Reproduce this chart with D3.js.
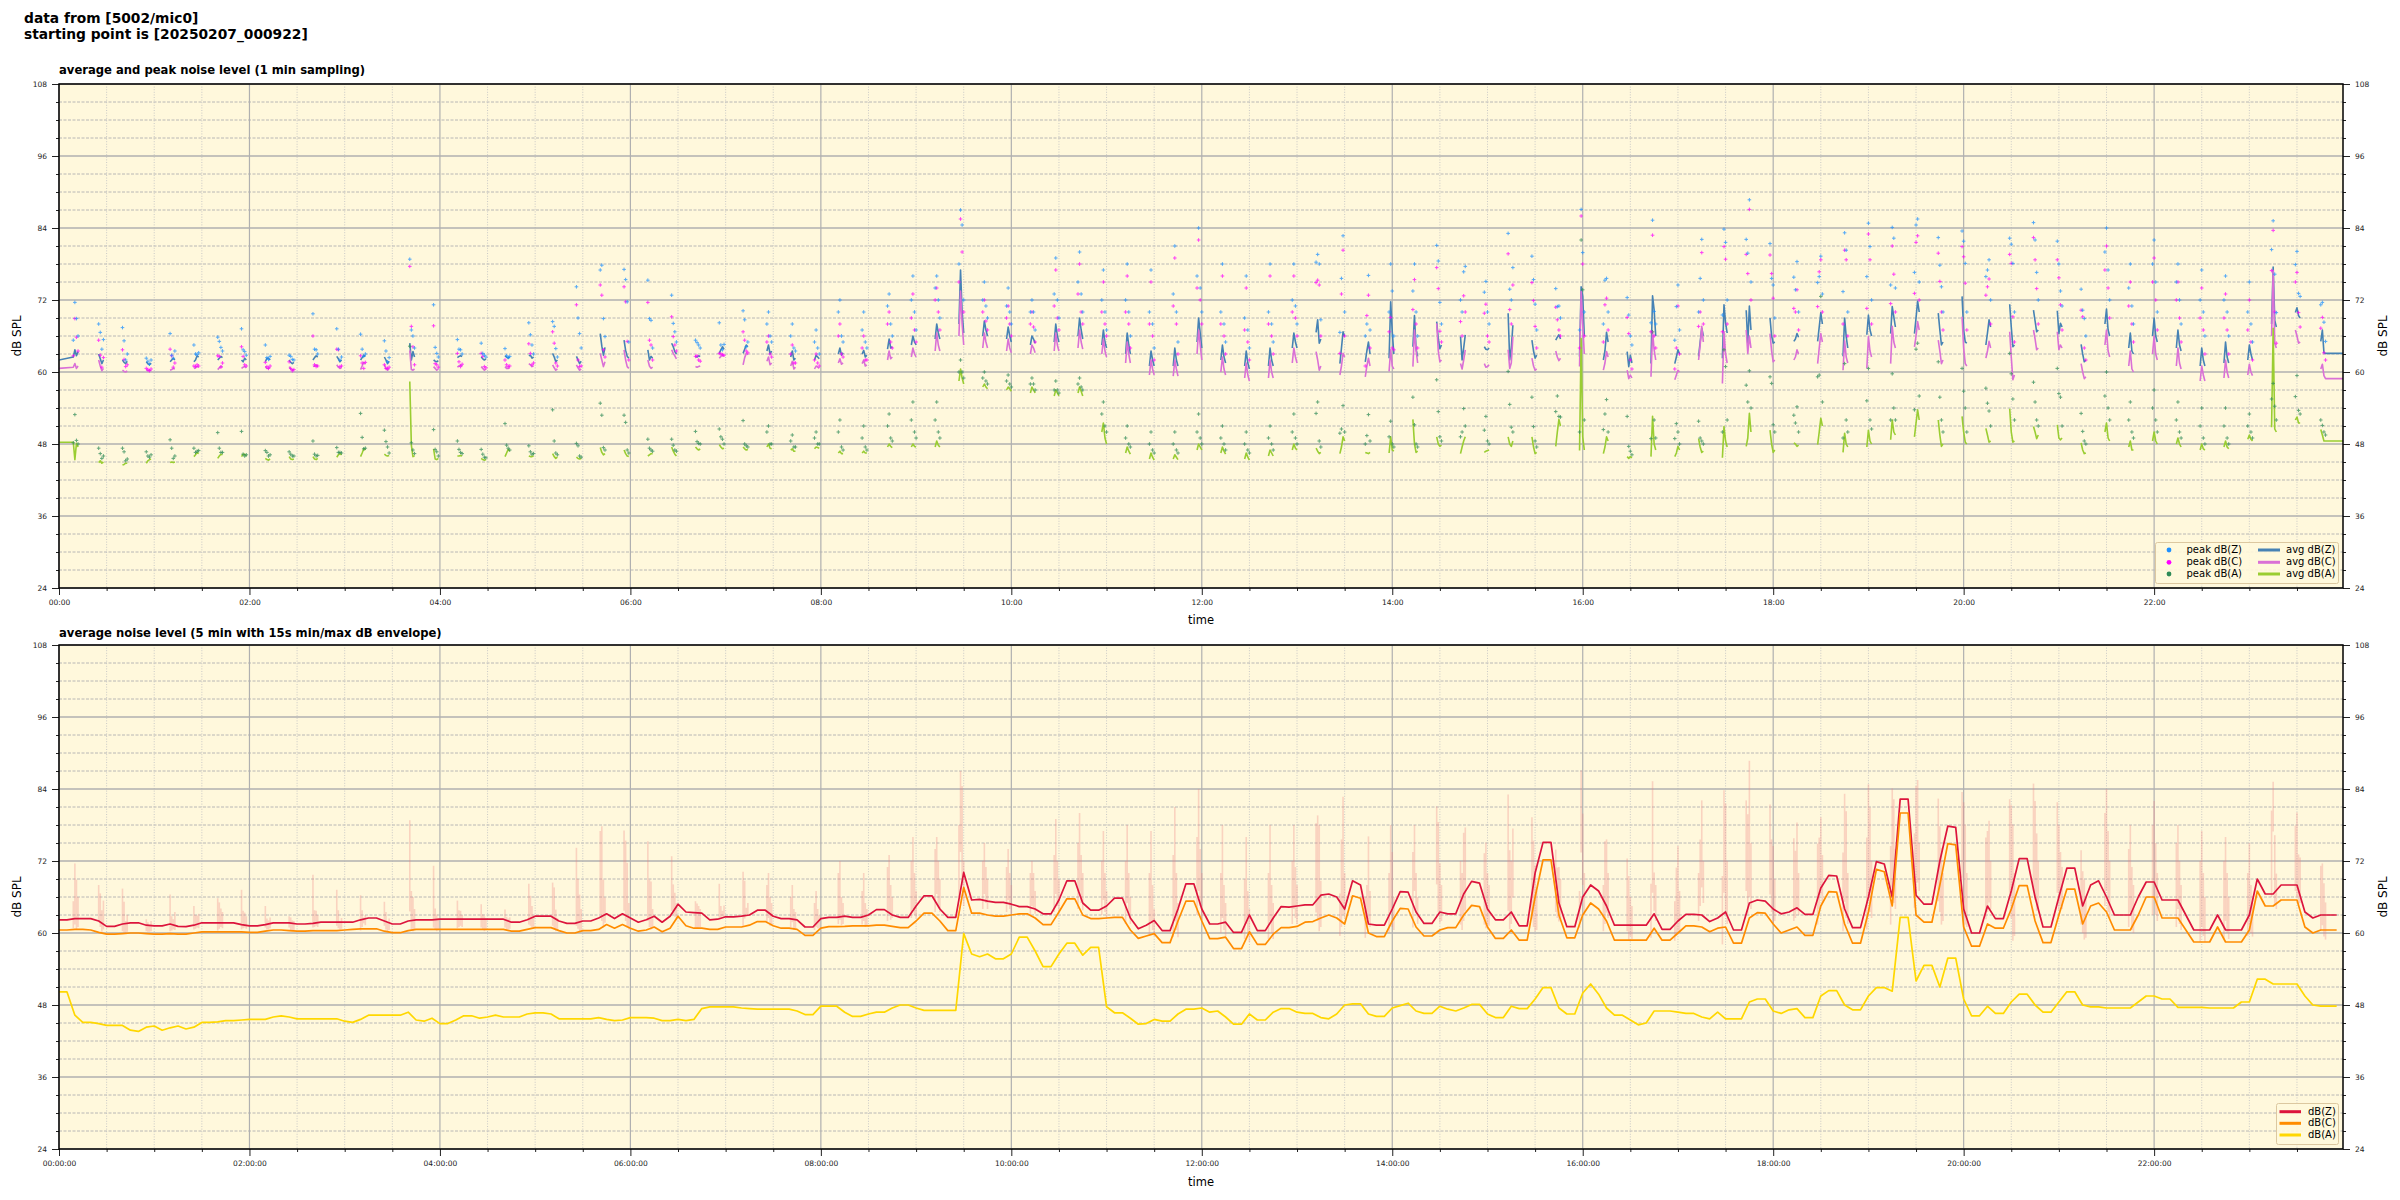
<!DOCTYPE html>
<html><head><meta charset="utf-8">
<script src="https://cdn.jsdelivr.net/npm/d3@7"></script>
<style>
body{margin:0;background:#fff;}
svg{display:block;font-family:"DejaVu Sans",sans-serif;}
</style></head><body>
<svg id="chart" width="2400" height="1200"></svg>
<script>
// ---------------- DATA ----------------
const mainTitle = ["data from [5002/mic0]", "starting point is [20250207_000922]"];
const panelTitles = ["average and peak noise level (1 min sampling)", "average noise level (5 min with 15s min/max dB envelope)"];
const yTicksMajor = [24, 36, 48, 60, 72, 84, 96, 108];

// top panel: 1-min samples recorded in bursts (4 samples each), burst start times
const clusterStart = ["00:09","00:25","00:40","00:55","01:10","01:25","01:40","01:55","02:10","02:25",
"02:40","02:55","03:10","03:25","03:41","03:56","04:11","04:26","04:41","04:56",
"05:11","05:26","05:41","05:56","06:11","06:26","06:41","06:56","07:11","07:26",
"07:41","07:56","08:11","08:26","08:42","08:57","09:12","09:27","09:42","09:57",
"10:12","10:27","10:42","10:57","11:12","11:27","11:42","11:57","12:12","12:27",
"12:42","12:57","13:12","13:27","13:43","13:58","14:13","14:28","14:43","14:58",
"15:13","15:28","15:43","15:58","16:13","16:28","16:43","16:58","17:13","17:28",
"17:43","17:58","18:13","18:28","18:44","18:59","19:14","19:29","19:44","19:59",
"20:14","20:29","20:44","20:59","21:14","21:29","21:44","21:59","22:14","22:29",
"22:44","22:59","23:14","23:29","23:45"];
const sampleOffsetMin = [0, 1, 2, 3];
const edgeTime = ["00:00", "23:59"];
const edgeAvgZ = [62.0, 63.1];
const edgeAvgC = [60.6, 58.9];
const edgeAvgA = [48.3, 48.5];

const avgZ = [
[62.5,63.7,62.7,63.4],[63.0,62.2,61.4,62.0],[62.0,61.6,61.4,61.8],[61.7,61.4,61.2,61.5],[61.7,62.0,62.3,62.0],
[61.7,62.0,62.7,62.5],[62.0,62.3,62.6,62.4],[62.0,61.7,62.3,62.0],[61.7,62.3,62.3,62.0],[62.0,61.6,61.4,61.6],
[62.0,62.4,62.7,62.5],[62.6,62.2,61.7,62.0],[62.0,62.4,62.8,62.6],[62.5,62.0,61.4,61.8],[64.8,62.0,63.4,62.5],
[62.0,61.8,61.7,61.9],[62.4,62.6,62.7,62.6],[62.5,62.2,62.0,62.2],[62.7,62.5,62.3,62.5],[62.7,62.8,62.3,62.5],
[63.1,62.5,61.7,62.0],[62.6,62.0,61.4,61.8],[66.4,64.3,62.8,64.1],[65.3,63.6,62.6,62.3],[63.7,62.0,62.6,62.3],
[64.8,64.2,63.4,63.0],[62.6,62.5,62.7,62.6],[63.1,63.7,64.2,63.8],[63.1,63.8,64.5,64.2],[63.5,64.5,63.0,63.5],
[62.5,63.5,62.0,62.3],[62.0,62.8,62.5,62.2],[63.0,64.0,62.8,63.2],[63.0,63.6,62.5,62.8],[63.8,65.5,64.0,64.2],
[64.5,66.0,65.0,64.5],[65.5,68.0,66.5,65.5],[68.0,77.0,70.0,66.5],[66.0,68.5,67.0,66.0],[65.5,67.5,66.0,65.0],
[64.5,66.0,65.5,64.8],[65.0,68.0,66.0,65.0],[66.0,69.0,67.0,65.5],[64.5,67.0,65.0,64.0],[63.0,66.5,64.5,63.0],
[61.0,63.5,62.0,61.0],[61.0,64.0,62.0,61.0],[65.0,69.0,66.5,64.0],[62.0,64.5,62.5,61.5],[61.0,63.5,61.5,60.5],
[61.0,64.0,62.0,61.0],[64.0,66.5,65.0,64.0],[66.6,68.7,64.8,65.5],[61.4,64.0,66.7,65.9],[61.7,63.5,65.0,63.0],
[62.3,71.7,66.7,63.0],[64.2,69.4,63.8,62.6],[68.4,65.5,63.9,64.5],[65.9,62.0,64.0,66.2],[64.2,63.8,63.7,64.0],
[69.8,62.0,64.0,67.8],[65.3,63.5,62.3,62.8],[65.3,65.8,66.2,65.5],[62.6,74.2,72.6,66.0],[62.0,63.5,66.6,65.0],
[63.4,60.9,62.8,61.5],[61.4,72.7,70.3,66.0],[61.4,62.5,63.7,63.0],[62.6,65.0,67.3,66.0],[62.3,71.2,68.2,66.5],
[70.3,64.8,71.0,67.0],[69.0,66.0,64.8,65.0],[65.1,65.5,66.4,65.8],[65.1,67.5,69.9,68.0],[62.6,69.0,65.9,64.0],
[66.2,69.5,67.0,66.0],[66.4,70.9,69.2,67.5],[66.4,69.0,71.8,70.0],[69.8,67.0,64.5,65.0],[72.6,67.0,65.0,64.8],
[64.5,66.5,68.7,67.5],[71.3,67.5,64.2,64.5],[70.3,68.5,66.7,67.0],[70.2,66.4,68.1,67.5],[64.6,63.0,61.7,62.0],
[68.0,70.5,67.0,66.0],[64.0,66.5,63.5,63.0],[66.0,69.0,66.0,65.0],[64.0,67.0,64.5,63.5],[61.0,64.0,62.0,61.0],
[61.5,65.0,62.5,61.5],[62.0,64.5,63.0,62.0],[68.0,77.5,68.6,67.5],[69.9,70.7,69.4,69.0],[65.1,67.0,63.2,63.1]];

const avgC = [
[60.8,61.4,60.6,61.0],[62.0,61.0,60.2,60.6],[60.3,60.1,60.0,60.2],[60.3,60.2,60.2,60.3],[60.3,60.4,60.6,60.5],
[60.6,60.7,60.9,60.8],[60.4,60.7,61.0,60.8],[60.6,60.8,60.9,60.7],[60.9,60.6,60.6,60.8],[60.9,60.5,60.3,60.4],
[60.9,61.0,61.2,61.0],[61.2,60.8,60.6,60.7],[60.4,61.0,61.6,61.3],[61.2,60.6,60.3,60.5],[63.6,60.4,60.3,60.5],
[60.9,60.6,60.3,60.5],[60.8,61.0,61.2,61.0],[60.9,60.6,60.3,60.5],[60.9,60.6,60.6,60.7],[61.4,61.2,60.9,61.0],
[61.2,60.7,60.3,60.5],[61.2,60.7,60.3,60.5],[63.1,62.0,60.9,61.7],[63.7,62.0,60.9,60.6],[62.0,61.0,60.6,60.8],
[63.7,63.1,62.7,62.2],[60.9,60.8,60.9,61.0],[62.3,62.6,62.8,62.6],[61.2,62.4,63.1,62.9],[61.8,62.5,61.2,61.5],
[61.0,61.8,60.5,60.8],[60.5,61.0,60.8,60.6],[61.5,62.2,61.3,61.5],[61.4,62.0,61.0,61.2],[62.0,63.5,62.2,62.5],
[62.5,64.0,63.0,62.5],[63.5,66.5,64.5,63.5],[66.0,73.5,68.0,64.5],[64.0,66.5,65.0,64.0],[63.5,65.5,64.0,63.2],
[63.0,64.5,64.0,63.2],[63.5,66.5,64.5,63.5],[64.0,67.0,65.0,63.8],[63.0,65.5,63.5,62.5],[61.5,65.0,63.0,61.5],
[59.5,62.0,60.5,59.5],[59.3,62.0,60.5,59.3],[63.0,67.0,64.5,62.0],[60.0,62.5,60.5,59.5],[59.0,61.5,59.5,58.5],
[59.0,62.0,60.0,59.0],[61.5,64.0,62.5,61.5],[63.4,62.0,60.3,61.0],[59.5,61.0,63.1,62.5],[59.2,61.0,62.3,61.0],
[60.1,63.7,61.0,60.5],[60.9,67.0,63.7,61.5],[68.1,63.5,61.7,62.0],[61.4,60.5,62.0,63.7],[61.4,60.8,60.9,61.2],
[63.7,60.6,61.5,65.9],[62.3,61.0,60.3,60.5],[63.5,62.5,61.9,62.3],[60.9,73.4,68.0,63.0],[60.3,61.5,63.4,62.5],
[60.3,58.9,59.5,59.0],[59.2,66.7,63.7,62.0],[58.7,59.5,60.3,60.0],[62.0,64.5,67.6,65.0],[58.1,66.7,63.0,61.5],
[67.0,63.1,66.0,64.0],[66.4,63.5,61.7,62.0],[62.0,62.5,63.7,63.0],[61.4,64.0,66.4,65.0],[60.3,65.2,62.5,61.5],
[60.6,65.9,63.5,62.5],[61.4,67.6,65.0,64.0],[64.2,66.0,68.4,67.0],[65.3,63.5,61.4,62.0],[69.2,64.0,61.4,61.0],
[62.3,63.5,65.1,64.0],[66.7,62.5,58.7,59.5],[67.0,65.5,63.7,64.0],[66.7,63.7,64.5,64.0],[61.4,60.0,58.9,59.2],
[64.5,67.0,63.5,62.5],[61.0,63.5,60.5,60.0],[63.0,66.0,63.0,62.0],[61.0,64.0,61.5,60.5],[58.5,61.0,59.5,58.5],
[59.0,62.0,60.0,59.0],[59.5,61.3,60.0,59.4],[66.0,76.9,64.8,64.0],[67.0,66.0,64.8,65.0],[60.5,61.3,59.4,58.9]];

const avgA = [
[48.3,45.4,48.1,47.5],[44.9,45.2,44.8,45.0],[44.5,44.6,44.8,44.8],[44.8,45.2,45.4,45.5],[44.9,45.0,44.9,45.0],
[45.9,46.2,46.6,46.4],[45.6,46.0,46.3,46.2],[45.9,46.3,46.3,46.0],[45.6,45.4,45.3,45.5],[45.9,45.5,45.4,45.5],
[45.9,45.5,45.4,45.6],[45.8,46.2,46.4,46.2],[45.9,46.5,47.2,47.0],[46.3,46.1,46.0,46.1],[58.4,47.8,45.9,46.0],
[47.2,45.5,45.4,45.6],[46.0,46.0,46.1,46.0],[45.6,45.4,45.3,45.4],[45.9,46.5,47.1,46.8],[46.0,45.9,45.9,46.0],
[46.4,45.9,45.6,45.8],[45.8,45.6,45.5,45.6],[47.4,46.6,46.2,46.4],[47.0,46.4,46.0,45.9],[46.0,46.2,46.4,46.4],
[47.5,46.8,46.3,46.0],[47.5,47.2,47.0,47.2],[47.9,47.5,47.2,47.3],[47.5,47.2,47.0,47.1],[47.5,48.0,47.3,47.2],
[47.0,47.2,46.8,46.8],[47.2,47.5,47.4,47.3],[46.5,46.8,46.4,46.4],[46.5,46.8,46.5,46.5],[47.5,48.0,47.6,47.4],
[47.5,48.0,47.6,47.5],[47.5,48.5,47.8,47.5],[58.5,60.5,59.0,58.0],[57.5,58.0,57.5,57.2],[57.0,57.5,57.2,56.8],
[56.5,57.5,57.0,56.5],[56.0,57.0,56.5,56.0],[56.5,57.5,56.8,56.0],[50.0,51.5,49.0,48.0],[46.5,47.5,46.8,46.3],
[45.5,46.5,45.8,45.3],[45.5,46.2,45.8,45.4],[47.0,48.0,47.5,47.0],[46.5,47.5,46.8,46.3],[45.5,46.5,45.8,45.3],
[46.0,47.0,46.5,46.0],[47.0,48.0,47.3,47.0],[47.3,46.8,46.4,46.6],[46.4,47.5,49.2,48.5],[46.6,46.5,46.4,46.6],
[46.5,49.2,47.0,46.8],[52.1,48.0,46.6,46.8],[49.2,48.0,47.6,47.8],[46.4,47.5,48.5,49.2],[46.6,46.8,46.9,47.0],
[49.2,48.0,47.6,48.5],[49.2,47.5,46.4,46.6],[47.6,50.0,52.1,51.0],[46.9,65.6,49.2,47.0],[46.4,47.5,49.2,48.5],
[45.9,45.6,45.9,45.7],[45.9,52.6,48.0,47.0],[45.9,46.5,47.6,47.0],[48.9,47.5,46.6,46.8],[45.7,50.9,48.5,47.5],
[47.6,49.0,53.1,50.0],[50.3,48.0,46.6,47.0],[48.2,48.0,47.6,47.8],[47.9,50.0,52.3,51.0],[46.6,49.8,48.0,47.5],
[47.5,50.3,48.5,48.0],[48.7,52.0,50.0,49.5],[49.2,51.5,53.7,52.0],[52.0,49.5,47.6,48.0],[52.6,50.0,48.3,48.0],
[50.6,49.5,48.3,48.5],[53.9,50.0,48.3,48.5],[50.9,50.0,48.9,49.5],[51.2,49.0,48.7,49.0],[48.2,47.0,46.4,46.5],
[50.0,51.5,49.0,48.5],[47.5,48.5,47.0,47.0],[48.5,50.0,48.5,48.0],[48.0,49.0,48.0,47.5],[47.0,48.0,47.2,47.0],
[47.5,48.5,47.5,47.2],[48.8,49.5,48.8,48.5],[50.8,67.3,50.5,50.0],[52.0,52.5,51.5,51.5],[50.4,49.5,48.5,48.5]];

const peakZ = [
[65.3,71.6,68.9,66.0],[68.0,66.6,63.8,65.4],[67.4,65.2,62.0,63.0],[62.3,61.8,61.3,62.0],[66.4,62.8,62.3,63.5],
[64.5,63.0,62.9,63.2],[65.8,65.1,64.1,63.5],[67.2,63.7,63.4,62.8],[64.5,62.4,62.1,62.6],[62.8,62.6,62.1,62.0],
[69.7,63.8,63.7,63.0],[67.2,63.8,62.0,62.5],[66.3,63.8,62.6,63.0],[65.2,63.5,61.7,62.4],[78.8,67.0,66.0,64.0],
[71.2,64.1,63.1,62.5],[65.4,63.8,63.7,63.0],[64.8,63.1,62.8,62.5],[63.9,62.7,62.4,62.6],[68.2,66.2,64.5,63.0],
[68.4,67.6,63.9,62.5],[74.2,69.0,66.4,64.0],[77.0,77.8,68.9,65.9],[77.1,75.4,71.7,65.0],[75.3,68.9,68.6,64.0],
[72.8,68.1,66.7,65.0],[65.3,64.9,64.5,64.0],[68.2,64.5,63.7,64.6],[70.2,68.7,64.2,65.0],[68,70,66,65],
[66,68,64,63.5],[65,67,64,63],[70,72,66,65],[67,70,65,64],[71,73,68,66],
[72,76,70,67],[74,76,72,69],[78,87,84.5,72],[72,75,71,69],[71,74,70,68],
[70,72,70,67],[73,79,72,69],[75,80,73,70],[72,77,70,67],[72,78,70,66],
[70,77,68,64],[73,81,70,65],[76,84,74,70],[70,78,68,65],[69,76,67,64],
[70,78,68,65],[72,78,71,68],[78.3,79.6,78.0,68.7],[66.6,75.6,82.7,70.0],[66.0,68.0,76.1,67.0],
[70.0,78.0,73.5,66.0],[73.5,78.0,70.0,66.0],[81.1,78.5,71.6,68.0],[72.0,70.0,76.7,77.6],[73.3,75.1,70.0,68.0],
[83.1,73.8,72.0,77.4],[79.3,75.4,71.3,67.0],[73.9,70.9,71.0,69.0],[67.0,87.1,79.9,70.0],[68.0,75.3,75.6,70.0],
[72.4,69.5,66.0,64.5],[68.2,85.3,70.1,68.0],[65.3,70.9,74.5,67.0],[70.0,75.6,82.1,72.0],[69.5,83.8,81.6,72.0],
[82.1,79.8,88.7,75.0],[81.4,75.6,74.5,69.0],[75.8,73.7,78.4,70.0],[74.9,75.9,79.3,73.0],[73.4,83.2,80.3,70.0],
[75.9,84.8,80.9,72.0],[74.5,84.1,82.3,74.0],[76.6,84.5,85.5,75.0],[82.4,77.8,74.2,70.0],[83.5,81.8,78.1,70.0],
[75.9,77.0,78.7,72.0],[82.3,81.3,78.1,70.0],[84.9,82.0,76.6,72.0],[81.8,78.0,73.5,71.0],[73.8,70.3,68.9,66.0],
[80,84,77,72],[74,78,71,68],[78,82,75,70],[75,78,72,68],[72,77,70,66],
[72,76,70,66],[70,75,68,65],[80.4,85.2,76.3,69.9],[77.9,80.1,73.1,72.6],[71.2,71.6,68.3,65.1]];

const peakC = [
[62.7,68.9,65.8,63.5],[65.3,62.8,60.8,62.4],[63.7,62.1,60.9,61.2],[60.6,60.4,60.2,60.5],[63.8,62.7,60.8,61.5],
[61.0,60.9,61.2,61.0],[62.7,62.6,60.8,61.5],[64.2,62.6,61.2,61.0],[61.6,60.9,60.6,61.0],[61.7,60.6,60.2,60.4],
[66.0,61.2,60.9,61.0],[63.8,63.7,60.9,61.0],[62.7,61.5,60.6,61.6],[61.2,60.6,60.6,60.8],[77.6,67.6,64.2,61.2],
[67.7,61.4,61.2,60.8],[63.1,61.7,60.9,61.3],[63.1,62.6,60.9,60.7],[62.0,61.2,60.9,61.0],[64.7,63.1,61.2,61.5],
[66.7,64.8,61.5,61.0],[71.2,62.0,60.9,61.0],[74.5,72.8,63.7,62.5],[74.2,71.7,65.1,62.0],[71.6,65.3,64.5,62.0],
[69.2,65.9,64.5,63.5],[62.6,62.7,62.0,61.8],[63.1,63.0,62.9,62.8],[66.7,65.3,63.5,63.2],[65,66,63,62.5],
[63,64.5,61.5,61.5],[62,63,61.5,61],[66,68,63,62.5],[64,66,62,62],[68,70,65,64],
[69,73,67,65],[72,74,70,67],[75,85.5,80,70],[70,72,68.5,67],[69,71,68,66],
[68,70,67.5,65],[71,77,69,67],[73,78,70,68],[70,75,68,66],[70,76,68,64],
[68,75,66,62],[71,79,68,63],[74,82,72,68],[68,76,66,63],[67,74,65,62],
[68,76,66,63],[70,76,69,66],[74.9,75.3,74.5,66.0],[63.1,73.0,80.3,66.0],[61.0,69.4,72.8,64.0],
[66.7,69.1,64.0,63.7],[70.4,75.4,68.0,64.0],[77.4,73.9,66.8,65.0],[68.4,66.0,72.7,70.0],[69.8,71.3,66.0,65.0],
[79.7,70.4,68.0,74.5],[74.9,71.9,67.6,64.0],[70.8,68.7,67.0,66.0],[64.0,86.0,78.0,66.0],[65.0,71.2,72.3,67.0],
[69.1,66.4,62.0,60.5],[66.7,82.8,66.0,64.0],[60.5,64.0,71.0,63.0],[67.6,70.0,79.9,68.0],[66.7,80.9,78.8,68.0],
[79.6,76.4,87.1,72.0],[79.5,76.4,72.3,66.0],[70.6,70.0,73.7,67.0],[70.9,76.7,78.7,70.0],[68.0,80.3,78.7,66.0],
[70.6,83.0,78.7,68.0],[71.4,81.0,76.3,70.0],[73.1,81.6,82.7,72.0],[79.8,75.1,70.0,67.0],[80.9,79.2,74.8,67.0],
[72.8,74.2,75.5,68.0],[79.6,78.1,69.2,65.0],[82.4,78.7,73.9,68.0],[78.7,75.7,71.2,67.0],[70.3,69.2,64.0,62.0],
[77,81,74,69],[71,75,68,65],[75,79,72,67],[72,75,69,65],[69,74,67,63],
[69,73,67,63],[67,72,65,62],[76.9,83.6,70.0,64.8],[75.0,76.6,69.9,67.5],[67.3,69.1,63.2,62.0]];

const peakA = [
[48.2,52.9,48.6,48.0],[47.3,46.4,45.6,46.0],[47.3,46.7,45.2,45.5],[46.7,46.0,45.8,46.2],[48.7,47.3,45.6,46.0],
[47.3,46.6,46.8,46.9],[49.9,47.3,46.6,46.6],[50.1,46.3,46.0,46.2],[46.9,46.6,46.0,46.2],[46.7,46.3,46.0,46.0],
[48.5,46.3,46.0,46.1],[47.4,46.6,46.6,46.5],[53.1,49.1,47.2,47.3],[50.3,48.4,47.5,46.5],[64.3,48.2,47.0,46.4],
[50.4,47.1,46.7,46.0],[48.5,47.1,46.6,46.4],[47.1,46.3,45.8,45.7],[51.4,47.8,47.3,47.0],[47.7,46.7,46.3,46.4],
[53.7,48.5,46.5,46.2],[48.1,47.7,46.0,45.8],[54.8,52.8,47.4,47.0],[52.8,51.6,47.0,46.5],[48.8,47.3,47.0,46.8],
[48.8,47.8,47.0,46.8],[50.1,48.4,48.1,48.0],[50.5,49.2,48.8,48.0],[51.9,48.0,47.7,47.5],[50,51,48,48],
[48.5,49.5,47.5,47.5],[49,50,48,48],[50,52,47.5,47],[49,51,47.5,47],[51,53,49,48.5],
[52,55,50,49],[52,55,50,49],[60,62,60,59],[59,60,58.5,58],[58.5,59.5,58,57.5],
[58,59,58,57],[57,58.5,57,56.5],[58,59,57.5,57],[53,55,51,50],[49,51,48,47.5],
[48,50,47,46.5],[48,50,47,46.5],[50,53,49,48],[49,51,48,47],[48,50,47,46.5],
[49,51,48,47],[50,53,49,48],[53.1,55.0,48.5,47.5],[49.8,50.5,54.4,50.0],[48.0,49.4,52.9,48.5],
[49.2,51.8,48.0,47.5],[55.8,51.2,48.0,47.5],[58.7,53.4,49.2,48.5],[49.2,50.0,53.9,51.0],[50.3,52.6,48.5,48.0],
[60.1,54.6,50.8,50.0],[55.8,50.9,48.5,47.5],[53.4,56.0,52.6,52.5],[50.0,82.0,73.7,52.0],[50.4,53.0,55.4,50.0],
[52.6,47.6,46.8,46.2],[48.9,66.7,52.0,49.0],[48.9,51.4,50.0,48.0],[51.8,49.0,48.5,48.0],[50.0,63.7,60.9,52.0],
[57.8,55.0,60.2,54.0],[59.2,58.1,51.2,50.0],[52.8,51.5,54.2,50.0],[59.2,59.5,72.6,55.0],[49.0,61.4,52.0,50.0],
[55.2,60.6,52.0,50.5],[52.0,59.7,54.0,52.0],[53.7,63.8,64.8,56.0],[61.7,55.8,52.0,50.0],[60.6,56.8,54.0,50.0],
[57.3,54.8,53.5,51.0],[63.1,59.7,55.5,52.0],[58.3,55.0,52.0,51.0],[60.6,56.4,55.8,51.0],[53.1,50.1,48.5,48.0],
[56,60,54,52],[52,55,50,49],[54,57,52,50],[52,55,50,49],[51,54,49,48],
[51,54,49,48],[51,53,50,49],[55.5,58.1,54.3,52.0],[55.9,59.4,53.6,53.0],[52.0,51.1,50.0,49.5]];

// bottom panel: 5-min averages, one value per 5 minutes from 00:00
const fiveMinStep = 5;
const avg5Z = [
62.2,62.2,62.4,62.4,62.4,62.0,61.1,61.1,61.5,61.7, 61.7,61.3,61.2,61.2,61.5,61.1,61.05,61.3,61.7,61.7,
61.7,61.7,61.7,61.4,61.2,61.2,61.4,61.7,61.7,61.7, 61.5,61.5,61.6,61.8,61.8,61.8,61.8,61.8,62.2,62.5,
62.5,62.0,61.5,61.5,62.0,62.2,62.2,62.2,62.3,62.3, 62.3,62.3,62.3,62.3,62.3,62.3,62.3,61.8,61.8,62.2,
62.8,62.8,62.8,62.0,61.6,61.6,62.0,62.0,62.5,63.2, 62.4,63.2,62.5,61.8,62.2,62.8,61.8,62.8,64.8,63.5,
63.4,63.3,62.2,62.3,62.7,62.7,62.8,63.0,63.8,63.8, 62.8,62.4,62.4,62.2,61.0,61.0,62.4,62.6,62.6,62.8,
62.6,62.6,63.0,63.9,63.9,63.0,62.6,62.6,64.5,66.2, 66.2,64.0,62.6,62.6,70.1,65.5,65.6,65.3,65.1,65.1,
64.8,64.4,64.4,64.0,63.2,63.2,65.5,68.7,68.7,65.0, 63.8,63.8,64.5,65.8,65.8,62.5,60.7,61.3,62.1,60.4,
60.4,64.0,68.2,68.2,64.0,61.5,61.5,61.8,60.1,60.1, 63.0,60.4,60.4,62.5,64.4,64.3,64.5,64.7,64.7,66.3,
66.5,66.0,64.0,68.7,68.0,61.5,61.3,61.3,64.0,66.9, 66.8,63.5,61.6,61.6,63.5,63.2,63.2,66.5,68.6,68.3,
64.0,62.2,62.2,63.5,61.2,61.2,70.0,75.1,75.1,65.0, 61.05,61.05,66.0,68.0,67.0,64.5,61.3,61.3,61.3,61.3,
61.3,63.2,60.6,60.6,62.0,63.1,63.1,63.0,61.9,62.5, 63.5,60.5,60.5,65.0,65.5,65.3,64.0,63.2,63.5,64.2,
63.1,63.1,67.5,69.6,69.5,64.0,60.9,60.9,66.0,71.9, 71.5,66.0,82.3,82.3,66.3,64.8,64.8,72.0,77.8,77.6,
64.0,60.0,60.0,64.5,62.4,62.4,67.0,72.4,72.4,66.0, 61.0,61.0,66.0,70.8,70.8,64.5,68.0,68.7,66.0,63.0,
63.0,63.0,66.0,68.5,68.5,65.5,65.5,65.5,63.0,60.5, 60.5,60.5,63.0,60.5,60.5,60.5,63.0,69.0,66.5,66.5,
68.0,68.0,68.0,63.5,62.5,63.0,63.0,63.0];
const avg5C = [
60.5,60.5,60.6,60.6,60.5,60.1,59.8,59.8,59.9,60.0, 60.0,59.9,59.8,59.8,59.9,59.8,59.8,60.0,60.2,60.2,
60.2,60.2,60.2,60.2,60.1,60.1,60.3,60.5,60.5,60.4, 60.3,60.3,60.4,60.4,60.4,60.4,60.5,60.6,60.7,60.7,
60.7,60.3,60.05,60.05,60.4,60.6,60.6,60.6,60.6,60.6, 60.6,60.6,60.6,60.6,60.6,60.6,60.6,60.3,60.3,60.6,
60.9,60.9,60.9,60.4,60.0,60.0,60.4,60.4,60.6,61.4, 60.8,61.4,60.8,60.3,60.5,61.0,60.2,60.8,62.8,61.2,
60.8,60.8,60.6,60.6,61.0,61.0,61.0,61.3,61.9,61.9, 61.2,60.8,60.8,60.6,59.6,59.6,60.8,61.05,61.05,61.1,
61.2,61.2,61.2,61.3,61.3,61.1,60.9,60.9,62.0,63.3, 63.3,62.0,60.4,60.4,67.6,63.3,63.3,63.0,62.8,62.8,
63.0,63.2,63.2,62.5,61.4,61.4,63.5,65.7,65.7,63.0, 62.4,62.4,62.5,62.6,62.6,60.5,59.1,59.5,59.9,58.4,
58.4,62.0,65.3,65.3,62.0,59.05,59.05,59.3,57.4,57.4, 60.2,58.1,58.1,59.8,60.9,60.9,61.1,61.8,61.9,62.5,
63.0,62.5,61.5,66.2,65.8,60.0,59.4,59.4,62.0,64.1, 64.0,61.0,59.5,59.5,60.5,60.9,60.9,63.0,64.6,64.4,
61.0,59.1,59.1,60.5,58.8,58.8,66.0,72.2,72.2,63.0, 59.2,59.2,63.0,65.0,64.0,62.0,58.8,58.8,58.8,58.8,
58.8,60.8,58.8,58.8,60.0,61.2,61.2,61.0,60.2,60.8, 61.0,58.3,58.3,62.5,63.4,63.3,61.5,60.0,60.5,61.0,
59.6,59.6,64.5,66.9,66.8,61.5,58.3,58.3,63.5,70.6, 70.2,64.5,80.0,80.0,63.0,61.8,61.8,68.0,74.9,74.7,
61.0,57.8,57.8,61.5,60.8,60.8,64.0,67.9,67.9,62.0, 58.4,58.4,63.0,67.3,67.3,61.5,64.5,65.0,63.5,60.5,
60.5,60.5,63.0,66.0,66.0,62.5,62.5,62.5,60.5,58.5, 58.5,58.5,61.0,58.5,58.5,58.5,60.5,67.0,64.5,64.5,
65.5,65.5,65.5,61.0,60.0,60.5,60.5,60.5];
const avg5A = [
50.2,50.2,46.3,45.1,45.1,44.9,44.6,44.6,44.6,43.8, 43.6,44.3,44.5,43.8,44.2,44.5,44.0,44.3,45.1,45.1,
45.2,45.4,45.4,45.5,45.6,45.6,45.6,46.0,46.2,46.0, 45.7,45.7,45.7,45.7,45.7,45.7,45.3,45.1,45.6,46.3,
46.3,46.3,46.3,46.3,46.8,45.5,45.3,45.8,44.9,44.9, 45.5,46.2,46.2,45.8,46.0,46.3,46.0,46.0,46.0,46.5,
46.7,46.7,46.5,45.7,45.7,45.7,45.7,45.7,45.9,45.6, 45.4,45.5,45.9,45.9,45.9,45.8,45.4,45.4,45.6,45.4,
45.6,47.4,47.7,47.7,47.7,47.7,47.5,47.4,47.3,47.3, 47.3,47.3,47.3,47.0,46.4,46.4,47.8,47.8,47.8,46.8,
46.1,46.1,46.5,46.8,46.8,47.5,48.0,48.0,47.5,47.1, 47.1,47.1,47.1,47.1,59.9,56.5,56.05,56.5,55.7,55.7,
56.5,59.3,59.3,57.0,54.4,54.4,56.5,58.3,58.3,56.3, 57.6,57.6,47.7,46.7,46.7,45.8,44.8,44.9,45.6,45.3,
45.3,46.5,47.3,47.3,47.5,46.8,47.0,46.0,44.8,44.8, 46.5,45.5,45.5,46.8,47.4,47.4,46.8,46.6,46.6,45.9,
45.7,46.5,48.0,48.2,48.2,46.5,46.1,46.1,47.5,47.9, 48.3,47.0,46.6,46.6,47.8,47.3,47.0,47.5,48.1,48.1,
46.5,45.9,45.9,47.8,47.4,47.4,49.0,50.9,50.9,47.5, 46.5,46.5,50.0,51.5,49.8,47.5,46.3,46.3,45.5,44.7,
45.0,47.0,47.0,47.0,46.8,46.6,46.6,46.0,45.7,46.8, 45.7,45.7,45.7,48.5,49.0,49.0,47.0,46.6,47.2,47.4,
45.9,45.9,49.5,50.4,50.4,48.0,47.2,47.2,49.5,50.9, 50.9,50.3,62.6,62.6,52.0,54.6,54.6,51.0,55.8,55.8,
49.0,46.2,46.2,47.8,46.6,46.6,48.5,49.8,49.8,48.0, 46.8,46.8,48.5,50.2,50.2,48.0,47.7,47.7,47.5,47.5,
47.5,47.5,48.5,49.5,49.5,49.0,49.0,47.6,47.6,47.6, 47.6,47.5,47.5,47.5,47.5,48.5,48.5,52.3,52.3,51.5,
51.5,51.5,51.5,49.5,48.0,47.8,47.8,47.8];

// ---------------- STYLE ----------------
const COL = {
  bg: "#fff8dc", grid: "#b0b0b0",
  peakZ: "#1e90ff", peakC: "#ff00ff", peakA: "#2e8b57",
  avgZ: "#4682b4", avgC: "#da70d6", avgA: "#9acd32",
  z5: "#dc143c", c5: "#ff8c00", a5: "#ffd700", env: "#f08080"
};
const X0 = 59, X1 = 2343;
const panels = [
  {top: 84, bottom: 588, titleY: 74, fmt: "%H:%M", timeY: 624},
  {top: 645, bottom: 1149, titleY: 637, fmt: "%H:%M:%S", timeY: 1186}
];

// ---------------- HELPERS ----------------
const day0 = new Date(2025, 1, 7, 0, 0, 0);
const hm = s => { const p = s.split(":").map(Number); return p[0] * 60 + p[1] + (p[2] || 0) / 60; };
const at = m => new Date(+day0 + m * 60000);

const x = d3.scaleTime().domain([at(0), at(hm("23:59"))]).range([X0, X1]);

const svg = d3.select("#chart");
svg.append("rect").attr("width", 2400).attr("height", 1200).attr("fill", "#fff");

svg.append("text").attr("x", 24).attr("y", 22.5).attr("font-size", 13.8).attr("font-weight", "bold").text(mainTitle[0]);
svg.append("text").attr("x", 24).attr("y", 38.5).attr("font-size", 13.8).attr("font-weight", "bold").text(mainTitle[1]);

function drawFrame(p, idx) {
  const y = d3.scaleLinear().domain([24, 108]).range([p.bottom, p.top]);
  const g = svg.append("g");
  g.append("rect").attr("x", X0).attr("y", p.top).attr("width", X1 - X0).attr("height", p.bottom - p.top).attr("fill", COL.bg);

  const minorY = d3.range(24, 109, 3).filter(v => v % 12 !== 0);
  const majorT = d3.timeHour.every(2).range(at(0), at(1440));
  const minorT = d3.timeMinute.every(30).range(at(0), at(1439)).filter(d => !(d.getMinutes() === 0 && d.getHours() % 2 === 0));

  g.selectAll(".gmy").data(minorY).join("line")
    .attr("x1", X0).attr("x2", X1).attr("y1", d => y(d)).attr("y2", d => y(d))
    .attr("stroke", COL.grid).attr("stroke-width", 0.9).attr("stroke-dasharray", "3,1.5");
  g.selectAll(".gmx").data(minorT).join("line")
    .attr("x1", d => x(d)).attr("x2", d => x(d)).attr("y1", p.top).attr("y2", p.bottom)
    .attr("stroke", "#c4c4c4").attr("stroke-width", 0.9).attr("stroke-dasharray", "1,1.6");
  g.selectAll(".gMy").data(yTicksMajor).join("line")
    .attr("x1", X0).attr("x2", X1).attr("y1", d => y(d)).attr("y2", d => y(d))
    .attr("stroke", COL.grid).attr("stroke-width", 1.5);
  g.selectAll(".gMx").data(majorT).join("line")
    .attr("x1", d => x(d)).attr("x2", d => x(d)).attr("y1", p.top).attr("y2", p.bottom)
    .attr("stroke", COL.grid).attr("stroke-width", 1.2);

  svg.append("text").attr("x", X0).attr("y", p.titleY).attr("font-size", 11.6).attr("font-weight", "bold").text(panelTitles[idx]);
  return {y, majorT, minorT, minorY};
}

function drawAxes(p, f) {
  const {y, majorT, minorT, minorY} = f;
  const styleAx = g => { g.select(".domain").remove(); g.selectAll("text").attr("font-size", 7.5).attr("fill", "#222").attr("font-family", "DejaVu Sans"); g.selectAll("line").attr("stroke", "#222"); };
  svg.append("g").attr("transform", `translate(${X0},0)`).call(d3.axisLeft(y).tickValues(yTicksMajor).tickSize(7).tickPadding(5).tickFormat(d3.format("d"))).call(styleAx);
  svg.append("g").attr("transform", `translate(${X0},0)`).call(d3.axisLeft(y).tickValues(minorY).tickSize(3).tickFormat("")).call(styleAx);
  svg.append("g").attr("transform", `translate(${X1},0)`).call(d3.axisRight(y).tickValues(yTicksMajor).tickSize(7).tickPadding(5).tickFormat(d3.format("d"))).call(styleAx);
  svg.append("g").attr("transform", `translate(${X1},0)`).call(d3.axisRight(y).tickValues(minorY).tickSize(3).tickFormat("")).call(styleAx);
  svg.append("g").attr("transform", `translate(0,${p.bottom})`).call(d3.axisBottom(x).tickValues(majorT).tickSize(7).tickPadding(5).tickFormat(d3.timeFormat(p.fmt))).call(styleAx);
  svg.append("g").attr("transform", `translate(0,${p.bottom})`).call(d3.axisBottom(x).tickValues(minorT).tickSize(3).tickFormat("")).call(styleAx);

  svg.append("rect").attr("x", X0).attr("y", p.top).attr("width", X1 - X0).attr("height", p.bottom - p.top)
    .attr("fill", "none").attr("stroke", "#000").attr("stroke-width", 1.5);

  const cy = (p.top + p.bottom) / 2;
  svg.append("text").attr("transform", `translate(17,${cy}) rotate(-90)`).attr("text-anchor", "middle").attr("dominant-baseline", "middle").attr("font-size", 12).text("dB SPL");
  svg.append("text").attr("transform", `translate(2383,${cy}) rotate(-90)`).attr("text-anchor", "middle").attr("dominant-baseline", "middle").attr("font-size", 12).text("dB SPL");
  svg.append("text").attr("x", (X0 + X1) / 2).attr("y", p.timeY).attr("text-anchor", "middle").attr("font-size", 11.5).text("time");
}

// ---------------- TOP PANEL ----------------
const f1 = drawFrame(panels[0], 0);
const y1 = f1.y;
const sampleTimes = clusterStart.map(s => sampleOffsetMin.map(o => at(hm(s) + o)));

function segments(vals, edge) {
  return sampleTimes.map((ts, k) => {
    const pts = ts.map((t, j) => ({t, v: vals[k][j]}));
    if (k === 0) pts.unshift({t: at(hm(edgeTime[0])), v: edge[0]});
    if (k === sampleTimes.length - 1) pts.push({t: at(hm(edgeTime[1])), v: edge[1]});
    return pts;
  });
}
const line1 = d3.line().x(d => x(d.t)).y(d => y1(d.v));
svg.append("clipPath").attr("id", "clipTop").append("rect").attr("x", X0).attr("y", panels[0].top).attr("width", X1 - X0).attr("height", panels[0].bottom - panels[0].top);
const gTop = svg.append("g").attr("clip-path", "url(#clipTop)");

[[avgZ, edgeAvgZ, COL.avgZ], [avgC, edgeAvgC, COL.avgC], [avgA, edgeAvgA, COL.avgA]].forEach(([vals, edge, c]) => {
  gTop.append("g").selectAll("path").data(segments(vals, edge)).join("path")
    .attr("d", line1).attr("fill", "none").attr("stroke", c).attr("stroke-width", 1.6).attr("stroke-linejoin", "round");
});
const plus = "M-1.8,0H1.8M0,-1.8V1.8";
[[peakA, COL.peakA], [peakC, COL.peakC], [peakZ, COL.peakZ]].forEach(([vals, c]) => {
  const pts = [];
  sampleTimes.forEach((ts, k) => ts.forEach((t, j) => pts.push({t, v: vals[k][j]})));
  gTop.append("g").selectAll("path").data(pts).join("path")
    .attr("transform", d => `translate(${x(d.t)},${y1(d.v)})`).attr("d", plus)
    .attr("stroke", c).attr("stroke-width", 1).attr("opacity", 0.75);
});
drawAxes(panels[0], f1);

(function () {
  const lg = svg.append("g");
  lg.append("rect").attr("x", 2155.5).attr("y", 542.5).attr("width", 183).attr("height", 41).attr("rx", 2)
    .attr("fill", COL.bg).attr("fill-opacity", 0.9).attr("stroke", "#dcc8a0").attr("stroke-width", 1);
  const rows = [550, 562.3, 574];
  const left = [["peak dB(Z)", COL.peakZ], ["peak dB(C)", COL.peakC], ["peak dB(A)", COL.peakA]];
  const right = [["avg dB(Z)", COL.avgZ], ["avg dB(C)", COL.avgC], ["avg dB(A)", COL.avgA]];
  left.forEach(([t, c], i) => {
    lg.append("circle").attr("cx", 2169).attr("cy", rows[i]).attr("r", 2.4).attr("fill", c);
    lg.append("text").attr("x", 2186.5).attr("y", rows[i]).attr("dominant-baseline", "middle").attr("font-size", 10).text(t);
  });
  right.forEach(([t, c], i) => {
    lg.append("line").attr("x1", 2258).attr("x2", 2280).attr("y1", rows[i]).attr("y2", rows[i]).attr("stroke", c).attr("stroke-width", 3);
    lg.append("text").attr("x", 2286).attr("y", rows[i]).attr("dominant-baseline", "middle").attr("font-size", 10).text(t);
  });
})();

// ---------------- BOTTOM PANEL ----------------
const f2 = drawFrame(panels[1], 1);
const y2 = f2.y;
svg.append("clipPath").attr("id", "clipBot").append("rect").attr("x", X0).attr("y", panels[1].top).attr("width", X1 - X0).attr("height", panels[1].bottom - panels[1].top);
const gBot = svg.append("g").attr("clip-path", "url(#clipBot)");

// 15 s min/max envelope of dB(Z): spikes at the recorded samples
const envPts = [];
sampleTimes.forEach((ts, k) => ts.forEach((t, j) => envPts.push({t, lo: avgC[k][j], hi: peakZ[k][j]})));
gBot.append("g").selectAll("line").data(envPts).join("line")
  .attr("x1", d => x(d.t)).attr("x2", d => x(d.t)).attr("y1", d => y2(d.lo)).attr("y2", d => y2(d.hi))
  .attr("stroke", COL.env).attr("stroke-width", 1.6).attr("opacity", 0.3);

const line2 = d3.line().x((d, i) => x(at(i * fiveMinStep))).y(d => y2(d));
[[avg5Z, COL.z5], [avg5C, COL.c5], [avg5A, COL.a5]].forEach(([vals, c]) => {
  gBot.append("path").datum(vals).attr("d", line2).attr("fill", "none").attr("stroke", c).attr("stroke-width", 1.7).attr("stroke-linejoin", "round");
});
drawAxes(panels[1], f2);

(function () {
  const lg = svg.append("g");
  lg.append("rect").attr("x", 2276.5).attr("y", 1103.5).attr("width", 62).attr("height", 41).attr("rx", 2)
    .attr("fill", COL.bg).attr("fill-opacity", 0.9).attr("stroke", "#dcc8a0").attr("stroke-width", 1);
  const rows = [1111.7, 1123.3, 1135];
  [["dB(Z)", COL.z5], ["dB(C)", COL.c5], ["dB(A)", COL.a5]].forEach(([t, c], i) => {
    lg.append("line").attr("x1", 2279.5).attr("x2", 2301).attr("y1", rows[i]).attr("y2", rows[i]).attr("stroke", c).attr("stroke-width", 3);
    lg.append("text").attr("x", 2308).attr("y", rows[i]).attr("dominant-baseline", "middle").attr("font-size", 10).text(t);
  });
})();
</script>
</body></html>
